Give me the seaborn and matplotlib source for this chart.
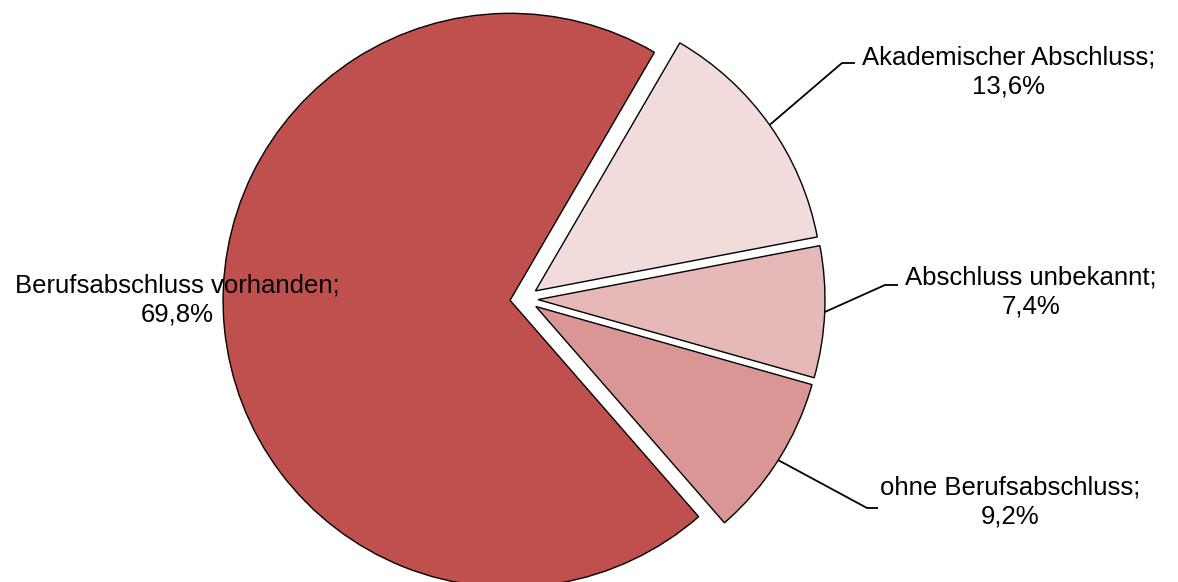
import numpy as np
import matplotlib
matplotlib.use("Agg")
import matplotlib.pyplot as plt
import seaborn as sns

# Shares of qualification levels (percent), drawn clockwise from the top right
categories = ["Akademischer Abschluss", "Abschluss unbekannt",
              "ohne Berufsabschluss", "Berufsabschluss vorhanden"]
shares = [13.6, 7.4, 9.2, 69.8]
share_labels = ["13,6%", "7,4%", "9,2%", "69,8%"]
colors = ["#F2DCDB", "#E6B9B8", "#D99694", "#C0504D"]

sns.set_theme(style="white")
plt.rcParams["font.family"] = ["Liberation Sans", "DejaVu Sans"]

W, H = 1178, 582
fig = plt.figure(figsize=(W / 100, H / 100), dpi=100)
ax = fig.add_axes([0, 0, 1, 1])

# pixel-like coordinates: x to the right, y upwards
cx, cy, R = 524, H - 299, 287
gap = 14  # outward shift of every wedge, in pixels
wedges, _ = ax.pie(
    shares,
    colors=colors,
    startangle=59.8,
    counterclock=False,
    radius=R,
    center=(cx, cy),
    explode=[gap] * len(shares),
    wedgeprops=dict(edgecolor="black", linewidth=1.0),
)
ax.set_aspect("auto")
ax.set_xlim(0, W)
ax.set_ylim(0, H)
ax.axis("off")

# label placement: (elbow x, elbow y, line end x, text x, text y) in pixels from the top
placements = {
    0: (842, 63, 855, 1009, 72),
    1: (885, 285, 898, 1031, 292),
    2: (867, 508, 878, 1010, 502),
}

fs = 18.5
for i, (cat, lab) in enumerate(zip(categories, share_labels)):
    text = f"{cat};\n{lab}"
    w = wedges[i]
    if i in placements:
        ex, ey, lx, tx, ty = placements[i]
        mid = np.deg2rad((w.theta1 + w.theta2) / 2)
        wx, wy = w.center
        sx = wx + w.r * np.cos(mid)
        sy = wy + w.r * np.sin(mid)
        ax.plot([sx, ex, lx], [sy, H - ey, H - ey], color="black",
                linewidth=1.3, solid_capstyle="butt")
        ax.text(tx, H - ty, text, ha="center", va="center",
                multialignment="center", fontsize=fs, color="black",
                linespacing=1.28)
    else:
        ax.text(177, H - 300, text, ha="center", va="center",
                multialignment="center", fontsize=fs, color="black",
                linespacing=1.28)

fig.savefig("out.png", dpi=100, facecolor="white")
